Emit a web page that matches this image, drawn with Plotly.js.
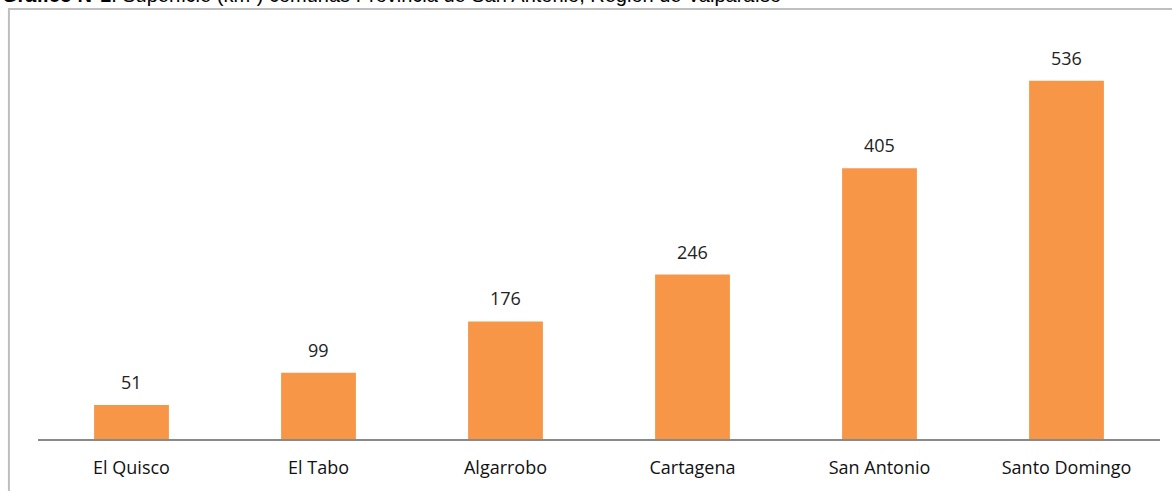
<!DOCTYPE html>
<html>
<head>
<meta charset="utf-8">
<script src="https://cdn.plot.ly/plotly-3.0.1.min.js"></script>
<style>
  html, body { margin: 0; padding: 0; background: #fff; }
  #chart { width: 1172px; height: 491px; }
</style>
</head>
<body>
<div id="chart"></div>
<script>
const comunas = ['El Quisco', 'El Tabo', 'Algarrobo', 'Cartagena', 'San Antonio', 'Santo Domingo']
const superficie = [51, 99, 176, 246, 405, 536]

const BAR_COLOR = '#F79646'
const FONT = 'Open Sans, Carlito, Calibri, sans-serif'

const trace = {
  x: comunas,
  y: superficie,
  type: 'bar',
  width: 0.4,
  marker: { color: BAR_COLOR },
  hoverinfo: 'skip'
}

// value labels above each bar
const valueLabels = comunas.map((c, i) => ({
  x: c,
  y: superficie[i],
  xref: 'x', yref: 'y',
  yanchor: 'bottom',
  yshift: 9,
  showarrow: false,
  text: String(superficie[i]),
  font: { family: FONT, size: 18, color: '#222' }
}))

// frame around the chart, in paper coords
const frame = { type: 'rect', xref: 'paper', yref: 'paper',
  x0: -0.0259, x1: 1.2, y0: -0.3, y1: 1.0513,
  line: { color: '#bfbfbf', width: 2 } }

const layout = {
  width: 1172,
  height: 491,
  margin: { l: 38, r: 12, t: 30, b: 52 },
  paper_bgcolor: '#fff',
  plot_bgcolor: '#fff',
  showlegend: false,
  font: { family: FONT, size: 18, color: '#000' },
  xaxis: {
    showline: true,
    linecolor: '#898989',
    linewidth: 2,
    ticks: '',
    tickfont: { family: FONT, size: 18, color: '#111' },
    ticklabelstandoff: 11,
    fixedrange: true
  },
  yaxis: {
    range: [0, 612],
    visible: false,
    showgrid: false,
    zeroline: false,
    fixedrange: true
  },
  shapes: [frame],
  annotations: valueLabels.concat([{
    xref: 'paper', yref: 'paper',
    x: -0.034, y: 1.054,
    xanchor: 'left', yanchor: 'bottom',
    showarrow: false,
    text: '<b>Gráfico N°1</b>: Superficie (km²) comunas Provincia de San Antonio, Región de Valparaíso',
    font: { family: 'Liberation Sans, Arial, sans-serif', size: 20, color: '#000' }
  }])
}

Plotly.newPlot('chart', [trace], layout, { displayModeBar: false, staticPlot: true })
</script>
</body>
</html>
